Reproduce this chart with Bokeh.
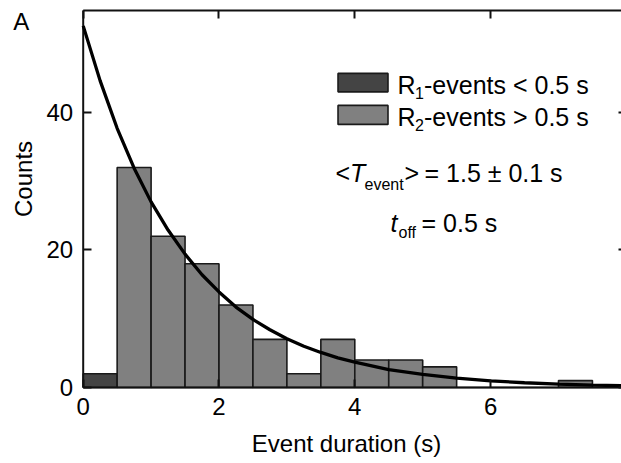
import math
from bokeh.plotting import figure
from bokeh.models import Range1d, LinearAxis, FixedTicker, Label, BoxAnnotation
from bokeh.embed import file_html
from bokeh.resources import INLINE

# ---------------- data ----------------
# R1 events (< 0.5 s)
r1_left = [0.0]
r1_right = [0.5]
r1_counts = [2]

# R2 events (> 0.5 s), 0.5 s bins
r2_left = [0.5, 1.0, 1.5, 2.0, 2.5, 3.0, 3.5, 4.0, 4.5, 5.0, 5.5, 6.0, 6.5, 7.0, 7.5]
r2_right = [1.0, 1.5, 2.0, 2.5, 3.0, 3.5, 4.0, 4.5, 5.0, 5.5, 6.0, 6.5, 7.0, 7.5, 8.0]
r2_counts = [32, 22, 18, 12, 7, 2, 7, 4, 4, 3, 0, 0, 0, 1, 0]

# exponential fit curve
fit_t = [0.0, 0.25, 0.5, 0.75, 1.0, 1.25, 1.5, 1.75, 2.0, 2.25, 2.5, 2.75, 3.0,
         3.25, 3.5, 3.75, 4.0, 4.5, 5.0, 5.5, 6.0, 6.5, 7.0, 7.5, 8.0]
fit_counts = [52.6, 44.6, 37.7, 31.9, 27.0, 22.9, 19.4, 16.4, 13.9, 11.7, 9.9, 8.4, 7.1,
              6.0, 5.1, 4.3, 3.7, 2.6, 1.9, 1.35, 0.96, 0.69, 0.49, 0.35, 0.25]

x_ticks = [0, 2, 4, 6]
y_ticks = [0, 20, 40]
x_max = 8.0
y_max = 54.84

FONT = "Liberation Sans"
F_AX = 24     # axis texts
F = 25        # legend / annotation texts
S = 16        # subscripts
LIFT = 7      # px: raise text baselines
LW = 2        # frame / tick line width

p = figure(width=621, height=463, output_backend="svg", toolbar_location=None,
           x_range=Range1d(-1.218, 7.928), y_range=Range1d(-11.055, 56.29),
           min_border=0)
p.outline_line_color = None
p.grid.visible = False
p.xaxis.visible = False
p.yaxis.visible = False


def frame_axis(dim, loc, fixed, labels):
    ax = LinearAxis(ticker=FixedTicker(ticks=x_ticks if dim == "x" else y_ticks),
                    fixed_location=fixed,
                    major_tick_in=8, major_tick_out=0, minor_tick_line_color=None,
                    axis_line_color=None,
                    major_tick_line_color="#111111", major_tick_line_width=LW,
                    major_label_text_font=FONT, major_label_text_font_size=f"{F_AX}px",
                    major_label_text_color="black" if labels else None)
    p.add_layout(ax, loc)
    return ax


bottom = frame_axis("x", "below", 0, True)
bottom.major_label_standoff = 11
left = frame_axis("y", "left", 0, True)
left.major_label_standoff = 10
frame_axis("x", "above", y_max, False)
frame_axis("y", "right", x_max, False)

# bars
p.quad(left=r1_left, right=r1_right, bottom=0, top=r1_counts,
       fill_color="#444444", line_color="#1a1a1a", line_width=1.6)
p.quad(left=r2_left, right=r2_right, bottom=0, top=r2_counts,
       fill_color="#808080", line_color="#1a1a1a", line_width=1.6)

# plot frame (box from the data origin to the axis limits)
p.segment(x0=[0, 0, 0, x_max], y0=[0, 0, y_max, 0],
          x1=[x_max, 0, x_max, x_max], y1=[0, y_max, y_max, y_max],
          line_color="#111111", line_width=LW)

# fit
p.line(fit_t, fit_counts, line_width=3.3, line_color="black")


def seg(x, y, text, size=F, style="normal", dx=0, dy=0, align="left", angle=0.0,
        baseline="alphabetic"):
    p.add_layout(Label(x=x, y=y, x_offset=dx, y_offset=dy + (LIFT if baseline == "alphabetic" else 0),
                       text=text, text_font=FONT, text_font_size=f"{size}px",
                       text_font_style=style, text_align=align,
                       text_baseline=baseline, text_color="black", angle=angle))


# legend swatches
p.add_layout(BoxAnnotation(left=3.753, right=4.489, bottom=43.0, top=45.69,
                           fill_color="#444444", fill_alpha=1, line_color="#1a1a1a",
                           line_width=1.6, line_alpha=1))
p.add_layout(BoxAnnotation(left=3.753, right=4.489, bottom=38.27, top=41.03,
                           fill_color="#808080", fill_alpha=1, line_color="#1a1a1a",
                           line_width=1.6, line_alpha=1))

# legend texts
seg(4.629, 42.91, "R")
seg(4.629, 42.91, "1", size=S, dx=17.5, dy=-8)
seg(4.629, 42.91, "-events < 0.5 s", dx=26.5)
seg(4.629, 38.33, "R")
seg(4.629, 38.33, "2", size=S, dx=17.5, dy=-8)
seg(4.629, 38.33, "-events > 0.5 s", dx=26.5)

# fit annotation
seg(3.716, 30.11, "<")
seg(3.716, 30.11, "T", style="italic", dx=14.5)
seg(3.716, 30.11, "event", size=S, dx=29, dy=-11)
seg(3.716, 30.11, ">", dx=69)
seg(3.716, 30.11, "= 1.5 ± 0.1 s", dx=89)
seg(4.526, 22.98, "t", style="italic")
seg(4.526, 22.98, "off", size=S, dx=8, dy=-10)
seg(4.526, 22.98, "= 0.5 s", dx=31)

# panel letter, axis titles
seg(-1.031, 52.17, "A", size=F_AX)
seg(-0.879, 30.33, "Counts", size=F_AX, align="center", baseline="middle",
    angle=math.pi / 2)
seg(3.878, -9.16, "Event duration (s)", size=F_AX, align="center")

open("out.html", "w").write(file_html(p, INLINE))
